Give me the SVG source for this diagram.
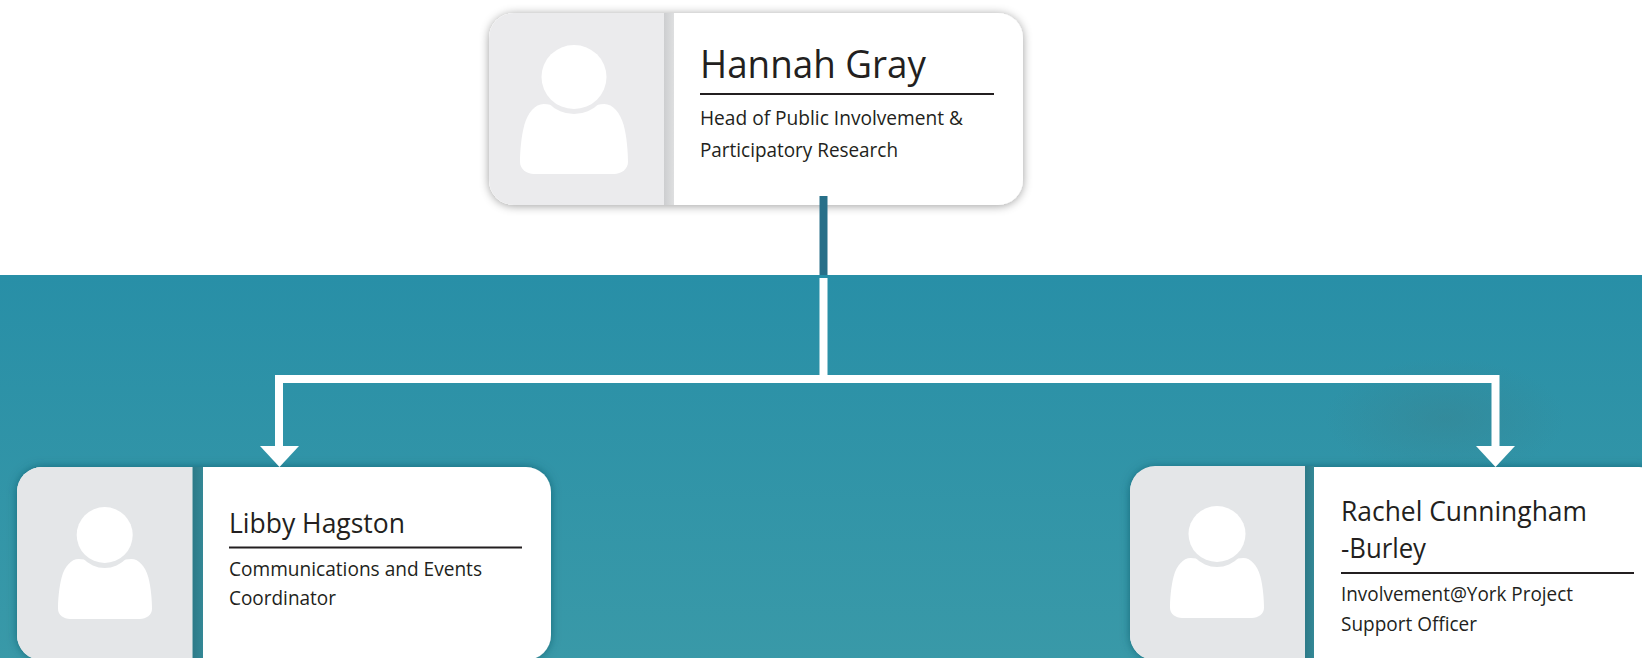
<svg xmlns="http://www.w3.org/2000/svg" width="1642" height="658" viewBox="0 0 1642 658">
  <defs>
    <linearGradient id="bg" x1="0" y1="0" x2="0" y2="1">
      <stop offset="0" stop-color="#288fa7"/>
      <stop offset="1" stop-color="#3999a8"/>
    </linearGradient>
    <linearGradient id="gapTop" x1="0" y1="0" x2="1" y2="0">
      <stop offset="0" stop-color="#cdced0"/>
      <stop offset="1" stop-color="#dedfe0"/>
    </linearGradient>
    <linearGradient id="gapLow" x1="0" y1="0" x2="1" y2="0">
      <stop offset="0" stop-color="#2d7a88"/>
      <stop offset="1" stop-color="#348896"/>
    </linearGradient>
    <radialGradient id="blob">
      <stop offset="0" stop-color="#3a7f8b" stop-opacity="0.4"/>
      <stop offset="1" stop-color="#3a7f8b" stop-opacity="0"/>
    </radialGradient>
    <filter id="shTop" x="-10%" y="-20%" width="120%" height="140%">
      <feDropShadow dx="0" dy="1" stdDeviation="5" flood-color="#000" flood-opacity="0.38"/>
    </filter>
    <filter id="shLow" x="-10%" y="-20%" width="120%" height="140%">
      <feDropShadow dx="0" dy="0" stdDeviation="5" flood-color="#174e5c" flood-opacity="0.6"/>
    </filter>
    <path id="person" d="M-28 -31 C-36 -31 -43 -22 -46 -10 C-49 2 -50 18 -50 27 C-50 34 -44 39 -37 39 L37 39 C44 39 50 34 50 27 C50 18 49 2 46 -10 C43 -22 36 -31 28 -31 C20 -31 12 -27 0 -27 C-12 -27 -20 -31 -28 -31 Z"/>
  </defs>
  <style>
    .grey-top { fill: #ebebed; }
    .grey-low { fill: #e4e6e8; }
    .white { fill: #fff; }
    .rule { stroke: #231f20; stroke-width: 2; fill: none; }
    text { font-family: "Open Sans", "Noto Sans", "Liberation Sans", sans-serif; fill: #231f20; }
    .title-l { font-size: 39px; }
    .title-m { font-size: 28px; }
    .sub-l { font-size: 20px; }
    .sub-m { font-size: 19.500px; }
    .wire { stroke: #fff; stroke-width: 8; fill: none; }
    .head { fill: #fff; }
  </style>

  <rect x="0" y="275" width="1642" height="383" fill="url(#bg)"/>
  <ellipse cx="1445" cy="418" rx="120" ry="60" fill="url(#blob)"/>

  <g id="node-hannah-gray">
    <rect x="489" y="13" width="534" height="192" rx="25" fill="#fff" filter="url(#shTop)"/>
    <path class="grey-top" d="M664 13 H514 A25 25 0 0 0 489 38 V180 A25 25 0 0 0 514 205 H664 Z"/>
    <rect x="664" y="13" width="10" height="192" fill="url(#gapTop)"/>
    <use href="#person" transform="translate(574 135) scale(1.08 1)" class="white"/>
    <ellipse cx="574" cy="77" rx="36" ry="37" class="grey-top"/>
    <ellipse cx="574" cy="77" rx="32.500" ry="32" class="white"/>
    <text x="700" y="78" class="title-l" textLength="226" lengthAdjust="spacingAndGlyphs">Hannah Gray</text>
    <line x1="700" y1="94" x2="994" y2="94" class="rule"/>
    <text x="700" y="125" class="sub-l" textLength="263" lengthAdjust="spacingAndGlyphs">Head of Public Involvement &amp;</text>
    <text x="700" y="157" class="sub-l" textLength="198" lengthAdjust="spacingAndGlyphs">Participatory Research</text>
  </g>

  <g id="node-libby-hagston">
    <rect x="17" y="467" width="534" height="193" rx="25" fill="#fff" filter="url(#shLow)"/>
    <path class="grey-low" d="M192.500 467 H42 A25 25 0 0 0 17 492 V635 A25 25 0 0 0 42 660 H192.500 Z"/>
    <rect x="192.500" y="467" width="10.500" height="193" fill="url(#gapLow)"/>
    <use href="#person" transform="translate(105 585.600) scale(0.94 0.857)" class="white"/>
    <ellipse cx="104.700" cy="535" rx="31" ry="33" class="grey-low"/>
    <ellipse cx="104.700" cy="535" rx="28" ry="28" class="white"/>
    <text x="229" y="533" class="title-m" textLength="176" lengthAdjust="spacingAndGlyphs">Libby Hagston</text>
    <line x1="229" y1="547.500" x2="522" y2="547.500" class="rule"/>
    <text x="229" y="576" class="sub-m" textLength="253" lengthAdjust="spacingAndGlyphs">Communications and Events</text>
    <text x="229" y="605" class="sub-m" textLength="107" lengthAdjust="spacingAndGlyphs">Coordinator</text>
  </g>

  <g id="node-rachel-cunningham-burley">
    <rect x="1130" y="467" width="534" height="193" rx="25" fill="#fff" filter="url(#shLow)"/>
    <path class="grey-low" d="M1305 466 H1155 A25 25 0 0 0 1130 491 V635 A25 25 0 0 0 1155 660 H1305 Z"/>
    <rect x="1305" y="466" width="9" height="194" fill="url(#gapLow)"/>
    <use href="#person" transform="translate(1217 584.600) scale(0.94 0.857)" class="white"/>
    <ellipse cx="1217" cy="534" rx="31.500" ry="33" class="grey-low"/>
    <ellipse cx="1217" cy="534" rx="28.500" ry="28" class="white"/>
    <text x="1341" y="521" class="title-m" textLength="246" lengthAdjust="spacingAndGlyphs">Rachel Cunningham</text>
    <text x="1341" y="558" class="title-m" textLength="85" lengthAdjust="spacingAndGlyphs">-Burley</text>
    <line x1="1341" y1="573" x2="1634" y2="573" class="rule"/>
    <text x="1341" y="600.500" class="sub-m" textLength="232" lengthAdjust="spacingAndGlyphs">Involvement@York Project</text>
    <text x="1341" y="630.500" class="sub-m" textLength="136" lengthAdjust="spacingAndGlyphs">Support Officer</text>
  </g>

  <g id="connectors">
    <rect x="819.500" y="196" width="8" height="79" fill="#287089"/>
    <path class="wire" d="M823.500 278 V379"/>
    <path class="wire" d="M279 447 V379 H1495.500 V447"/>
    <path class="head" d="M260 446 H299 L279.500 467 Z"/>
    <path class="head" d="M1476 446 H1515 L1495.500 467 Z"/>
  </g>
</svg>
